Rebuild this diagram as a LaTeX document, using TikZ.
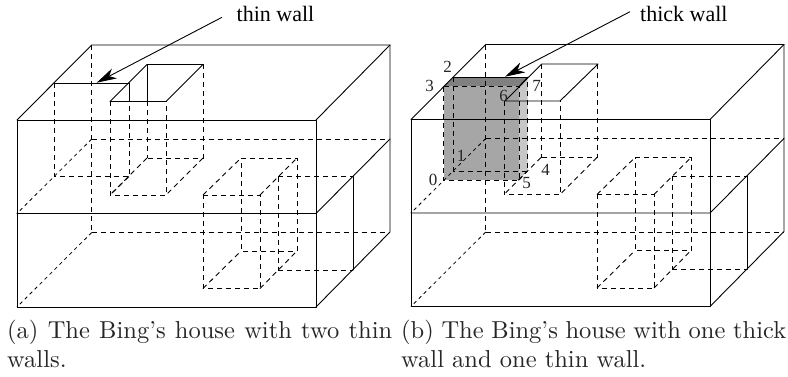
\documentclass[tikz,border=0pt]{standalone}
\usepackage{fontspec}
\usetikzlibrary{arrows.meta}
\newfontfamily\figfont{Liberation Serif}
\newfontfamily\capfont{lmroman10-regular.otf}
\tikzset{
  solidedge/.style={line width=0.9pt,line cap=round,line join=round,black},
  hidden/.style={line width=0.9pt,dash pattern=on 5pt off 4pt,black},
  fine/.style={line width=0.8pt,dash pattern=on 3.5pt off 3.5pt,black},
  pointer/.style={line width=0.9pt,-{Stealth[length=20pt,width=11pt,inset=6pt]}},
  walllabel/.style={font=\figfont\fontsize{22}{24}\selectfont,inner sep=0pt,anchor=base west},
  digit/.style={font=\figfont\fontsize{17}{19}\selectfont,inner sep=0pt,text=black!85},
  captionline/.style={font=\capfont\fontsize{24.5}{28}\selectfont,inner sep=0pt,anchor=base west,text=black!85},
}
\newcommand{\housebody}{%
  % outer box
  \draw[solidedge] (17,120) -- (316,120) -- (316,307) -- (17,307) -- cycle;
  \draw[solidedge] (17,120) -- (91.7,45) -- (390,45) -- (390,232) -- (316,307);
  \draw[solidedge] (316,120) -- (390,45);
  \draw[solidedge] (17,213.5) -- (316,213.5) -- (390,139);
  % hidden box edges
  \draw[hidden] (91.7,45) -- (91.7,232);
  \draw[hidden] (91.7,139) -- (390,139);
  \draw[hidden] (91.7,232.5) -- (390,232.5);
  \draw[fine] (91.7,139) -- (17,213.5);
  \draw[fine] (91.7,232.5) -- (17,307);
  % second hole, lower parts
  \draw[hidden] (110,101) -- (110,195) -- (166,195) -- (166,101);
  \draw[hidden] (203,64) -- (203,158) -- (147,158);
  \draw[hidden] (147,158) -- (110,195);
  \draw[hidden] (203,158) -- (166,195);
  % lower inner box
  \draw[hidden] (203,195) -- (260,195) -- (260,288.5) -- (203,288.5) -- cycle;
  \draw[hidden] (241,158) -- (297,158) -- (297,251) -- (241,251) -- cycle;
  \draw[hidden] (203,195) -- (241,158);
  \draw[hidden] (260,195) -- (297,158);
  \draw[hidden] (203,288.5) -- (241,251);
  \draw[hidden] (260,288.5) -- (297,251);
  \draw[hidden] (278,176.5) -- (278,270);
  \draw[hidden] (278,176.5) -- (353,176.5);
  \draw[hidden] (278,270) -- (353,270);
  \draw[solidedge] (353,176.5) -- (353,270);
}
\begin{document}
\begin{tikzpicture}[x=1pt,y=-1pt]
\useasboundingbox (0,0) rectangle (788,376);
\fill[white] (0,0) rectangle (788,376);
% ---------- panel a
\housebody
\draw[solidedge] (54,83) -- (129,83);
\draw[solidedge] (129,83) -- (129,101);
\draw[solidedge] (110,101.5) -- (147,64.5) -- (203,64.5) -- (166,101.5) -- cycle;
\draw[solidedge] (147,64.5) -- (147,101);
\draw[hidden] (147,101) -- (147,158);
\draw[hidden] (54,83) -- (54,176.5) -- (129,176.5) -- (129,101);
\draw[hidden] (129,176.5) -- (110,195);
\node[walllabel] (thinlabel) at (236.5,21) {thin wall};
\coordinate (thintail) at (222,17.3);
\coordinate (thintip) at (96.7,82.7);
\draw[pointer] (thintail) -- (thintip);
\node[captionline] (capa1) at (7,338.5) {\makebox[385pt][s]{(a) The Bing’s house with two thin}};
\node[captionline] (capa2) at (7,367.7) {walls.};
% ---------- panel b
\begin{scope}[shift={(394,-0.5)}]
\fill[black!35] (49.5,87.2) rectangle (125,180.5);
\fill[black!22] (125,87.2) -- (133.5,77.8) -- (133.5,171.5) -- (125,180.5) -- cycle;
\fill[black!50] (49.5,87.2) -- (59.3,77.8) -- (133.5,77.8) -- (125,87.2) -- cycle;
\housebody
\draw[solidedge] (111,101.5) -- (147.7,64.5) -- (204,64.5) -- (166,101.5) -- cycle;
\draw[hidden] (147.7,64.5) -- (147.7,158);
\draw[hidden] (49.5,87.2) -- (125,87.2);
\draw[hidden] (49.5,87.2) -- (49.5,180.5) -- (125,180.5) -- (125,87.2);
\draw[hidden] (59.3,77.8) -- (59.3,171.5) -- (133.5,171.5) -- (133.5,77.8);
\draw[solidedge] (59.3,77.8) -- (133.5,77.8);
\draw[solidedge] (125,87.2) -- (133.5,77.8);
\draw[hidden] (125,180.5) -- (133.5,171.5);
\end{scope}
\node[digit] (d2) at (447.7,67) {2};
\node[digit] (d3) at (429.5,86) {3};
\node[digit] (d6) at (503.5,96) {6};
\node[digit] (d7) at (536.5,85.5) {7};
\node[digit] (d1) at (461,156) {1};
\node[digit] (d0) at (433,180) {0};
\node[digit] (d5) at (526.7,183) {5};
\node[digit] (d4) at (545.5,170) {4};
\node[walllabel] (thicklabel) at (640,21) {thick wall};
\coordinate (thicktail) at (630,11.7);
\coordinate (thicktip) at (505,76.7);
\draw[pointer] (thicktail) -- (thicktip);
\node[captionline] (capb1) at (401,338.5) {\makebox[385pt][s]{(b) The Bing’s house with one thick}};
\node[captionline] (capb2) at (401,367.7) {wall and one thin wall.};
\end{tikzpicture}
\end{document}
